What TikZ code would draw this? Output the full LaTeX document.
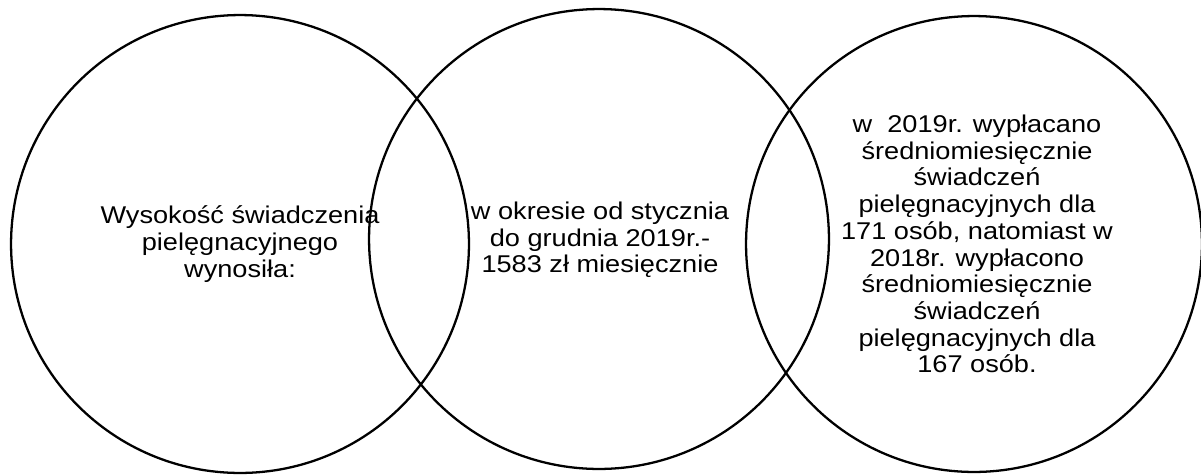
\documentclass[tikz,border=0pt]{standalone}
\usepackage{fontspec}
\setmainfont{Liberation Sans}
\begin{document}
\begin{tikzpicture}[x=0.02cm,y=-0.02cm,
  ring/.style={draw=black,line width=1.3pt,circle,inner sep=0pt,minimum size=9.16cm},
  label/.style={align=center,inner sep=0pt,transform shape,xscale=1.12,
    font=\fontsize{13.8pt}{15.2pt}\selectfont}]
\useasboundingbox (0,0) rectangle (1201,474);
\fill[white] (0,0) rectangle (1201,474);
\node[ring,minimum size=9.16cm] (c1) at (240,244) {};
\node[ring,minimum size=9.2cm] (c2) at (599,239) {};
\node[ring,minimum size=9.12cm] (c3) at (974,244) {};
\node[label] (t1) at (240,244) {Wysokość świadczenia\\pielęgnacyjnego\\wynosiła:};
\node[label] (t2) at (600,240) {w okresie od stycznia\\do grudnia 2019r.-\\1583 zł miesięcznie};
\node[label] (t3) at (977,244) {w\ \ 2019r. wypłacano\\średniomiesięcznie\\świadczeń\\pielęgnacyjnych dla\\171 osób, natomiast w\\2018r. wypłacono\\średniomiesięcznie\\świadczeń\\pielęgnacyjnych dla\\167 osób.};
\end{tikzpicture}
\end{document}
